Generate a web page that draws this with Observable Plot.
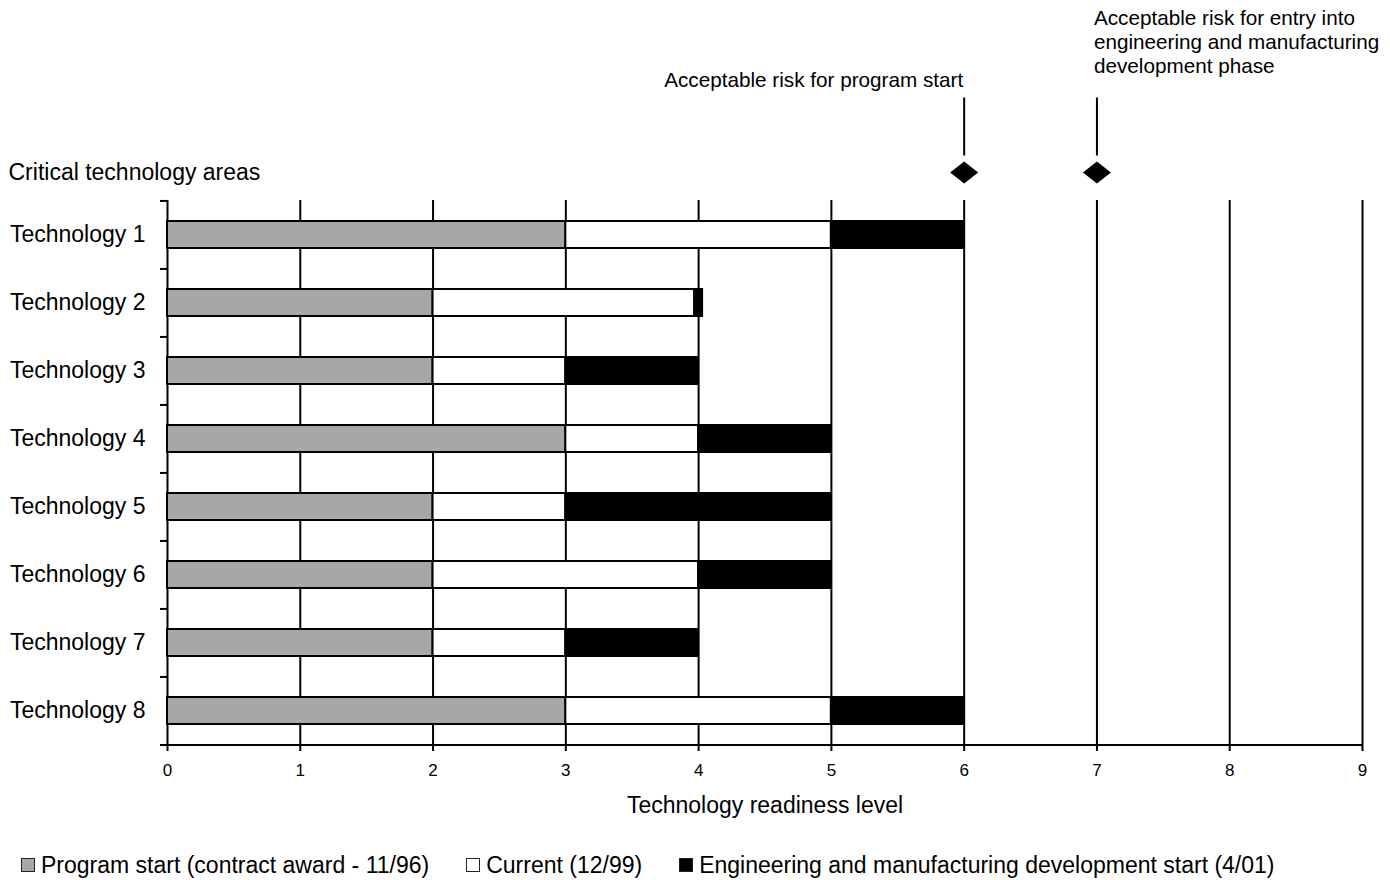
<!DOCTYPE html>
<html>
<head>
<meta charset="utf-8">
<script src="https://cdn.jsdelivr.net/npm/d3@7"></script>
<script src="https://cdn.jsdelivr.net/npm/@observablehq/plot@0.6"></script>
<style>
  html, body { margin: 0; padding: 0; background: #fff; }
  body { font-family: "Liberation Sans", Arial, Helvetica, sans-serif; color: #000; }
  #legend { display: flex; align-items: center; gap: 37px; padding-left: 21px; height: 40px; margin-top: 5px; font-size: 23px; }
  #legend .item { display: flex; align-items: center; gap: 6px; }
  #legend .sw { width: 14px; height: 14px; border: 1.5px solid #222; box-sizing: border-box; }
</style>
</head>
<body>
<div id="chart"></div>
<div id="legend"></div>
<script>
const techs = ["Technology 1","Technology 2","Technology 3","Technology 4","Technology 5","Technology 6","Technology 7","Technology 8"];
const programStart = [3, 2, 2, 3, 2, 2, 2, 3];
const current      = [5, 3.97, 3, 4, 3, 4, 3, 5];
const emdStart     = [6, 4.03, 4, 5, 5, 5, 4, 6];
const xTicks = [0, 1, 2, 3, 4, 5, 6, 7, 8, 9];
const seriesNames = ["Program start (contract award - 11/96)", "Current (12/99)", "Engineering and manufacturing development start (4/01)"];
const seriesColors = ["#a7a7a6", "#ffffff", "#000000"];
const milestones = [6, 7];
const milestoneLabels = ["Acceptable risk for program start", "Acceptable risk for entry into\nengineering and manufacturing\ndevelopment phase"];
const yTitle = "Critical technology areas";
const xTitle = "Technology readiness level";

const W = 1390, H = 840, mL = 167, mR = 28, mT = 200, mB = 95;
const plotH = H - mT - mB;
const step = plotH / techs.length;

const segments = techs.flatMap((t, i) => [
  {tech: t, x1: 0, x2: programStart[i], s: seriesNames[0]},
  {tech: t, x1: programStart[i], x2: current[i], s: seriesNames[1]},
  {tech: t, x1: current[i], x2: emdStart[i], s: seriesNames[2]}
]);

const wideDiamond = {
  draw(ctx) {
    ctx.moveTo(-14, 0); ctx.lineTo(0, -11); ctx.lineTo(14, 0); ctx.lineTo(0, 11); ctx.closePath();
  }
};
const leaderLine = {
  draw(ctx) {
    ctx.moveTo(0, -29); ctx.lineTo(0, 29);
  }
};

const chart = Plot.plot({
  width: W, height: H,
  marginLeft: mL, marginRight: mR, marginTop: mT, marginBottom: mB,
  style: {fontFamily: '"Liberation Sans", Arial, Helvetica, sans-serif', fontSize: "17px", color: "#000", background: "#fff"},
  x: {domain: [0, 9]},
  y: {domain: techs, paddingInner: 0.6, paddingOuter: 0.3},
  color: {type: "ordinal", domain: seriesNames, range: seriesColors},
  marks: [
    Plot.ruleX(xTicks.filter(d => d > 0), {stroke: "#000", strokeWidth: 2}),
    Plot.ruleX([0], {stroke: "#000", strokeWidth: 2}),
    Plot.ruleY(techs, {y: d => d, dy: -step / 2, x1: 0, x2: 0, insetLeft: -7, stroke: "#000", strokeWidth: 2}),
    Plot.ruleY([techs[techs.length - 1]], {y: d => d, dy: step / 2, x1: 0, x2: 9, insetLeft: -7, stroke: "#000", strokeWidth: 2}),
    Plot.barX(segments, {y: "tech", x1: "x1", x2: "x2", fill: "s", stroke: "#000", strokeWidth: 2}),
    Plot.dot(milestones, {x: d => d, frameAnchor: "top", dy: -74, symbol: leaderLine, fill: "none", stroke: "#000", strokeWidth: 2}),
    Plot.dot(milestones, {x: d => d, frameAnchor: "top", dy: -28, symbol: wideDiamond, fill: "#000", stroke: null}),
    Plot.text([milestones[0]], {x: d => d, text: () => milestoneLabels[0], frameAnchor: "top", dy: -120, dx: -1, textAnchor: "end", lineAnchor: "middle", fontSize: 20.7}),
    Plot.text([milestones[1]], {x: d => d, text: () => milestoneLabels[1], frameAnchor: "top", dy: -159, dx: -3, textAnchor: "start", lineAnchor: "middle", lineHeight: 1.16, fontSize: 20.7}),
    Plot.text([yTitle], {text: d => d, frameAnchor: "top-left", dx: -159, dy: -28, textAnchor: "start", lineAnchor: "middle", fontSize: 23}),
    Plot.text([xTitle], {text: d => d, frameAnchor: "bottom", dy: 60, lineAnchor: "middle", fontSize: 23}),
    Plot.axisX(xTicks, {tickSize: 6, tickPadding: 12, strokeWidth: 2, fontSize: 17, tickFormat: "d", label: null}),
    Plot.axisY({tickSize: 0, tickPadding: 22, fontSize: 23, label: null})
  ]
});
document.getElementById("chart").appendChild(chart);

const legend = document.getElementById("legend");
seriesNames.forEach((name, i) => {
  const item = document.createElement("div");
  item.className = "item";
  const sw = document.createElement("div");
  sw.className = "sw";
  sw.style.background = seriesColors[i];
  const lab = document.createElement("span");
  lab.textContent = name;
  item.appendChild(sw);
  item.appendChild(lab);
  legend.appendChild(item);
});
</script>
</body>
</html>
